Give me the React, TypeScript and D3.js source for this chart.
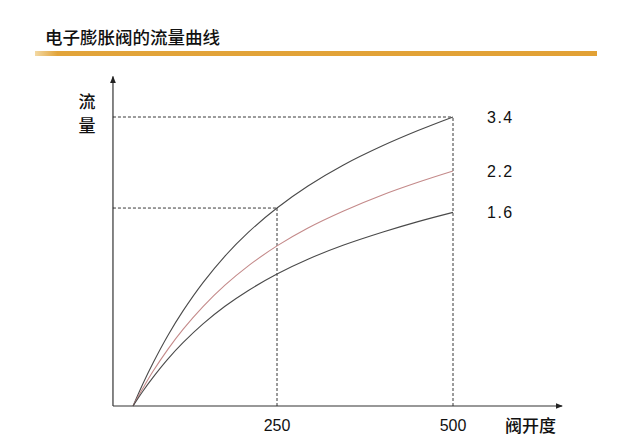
import React, { useEffect, useRef } from 'react'
import * as d3 from 'd3'

// 阀开度 (x) shared by the three curves, 流量 (y, 0-100 of the top guide)
const opening = [45.5, 59.7, 73.9, 95.2, 116.5, 144.9, 176.1, 208.8, 250, 294, 343.8, 400.6, 450.3, 500]
const flowTop = [0, 7.8, 14.9, 24.5, 32.9, 42.7, 51.9, 60.0, 68.5, 76.1, 83.3, 90.1, 95.3, 100]
const flowMid = [0, 6.2, 12.0, 19.7, 26.5, 34.4, 41.8, 48.4, 55.4, 61.6, 67.4, 73.1, 77.4, 81.3]
const flowLow = [0, 5.2, 9.9, 16.3, 21.9, 28.4, 34.5, 39.9, 45.7, 50.8, 55.6, 60.2, 63.8, 67.0]

const curveLabels = ['3.4', '2.2', '1.6']
const xTicks = [250, 500]
const title = '电子膨胀阀的流量曲线'
const yTitle = ['流', '量']
const xTitle = '阀开度'

const W = 640
const H = 438

const App: React.FC = () => {
  const ref = useRef<SVGSVGElement>(null)

  useEffect(() => {
    renderChart()
  }, [])

  const renderChart = () => {
    const svg = d3.select(ref.current)
    svg.selectAll('*').remove()

    const xScale = d3.scaleLinear().domain([0, 500]).range([101, 453])
    const yScale = d3.scaleLinear().domain([0, 100]).range([406, 117])

    const xAxisMin = 17
    const xAxisMax = 655
    const yAxisMax = 114

    /* header */
    const defs = svg.append('defs')
    const grad = defs
      .append('linearGradient')
      .attr('id', 'bar')
      .attr('x1', '0%')
      .attr('x2', '100%')
    grad.append('stop').attr('offset', '0%').attr('stop-color', '#f3d9a4')
    grad.append('stop').attr('offset', '4%').attr('stop-color', '#e2a43a')
    grad.append('stop').attr('offset', '100%').attr('stop-color', '#e2a135')

    svg
      .append('text')
      .attr('x', 45)
      .attr('y', 44)
      .attr('font-family', '"Noto Sans CJK SC", sans-serif')
      .attr('font-size', 17.5)
      .attr('font-weight', 500)
      .attr('fill', '#111')
      .text(title)

    svg
      .append('rect')
      .attr('x', 35)
      .attr('y', 51)
      .attr('width', 562)
      .attr('height', 5)
      .attr('fill', 'url(#bar)')

    /* arrows */
    defs
      .append('marker')
      .attr('id', 'arrow')
      .attr('viewBox', '0 0 10 10')
      .attr('refX', 9)
      .attr('refY', 5)
      .attr('markerWidth', 6)
      .attr('markerHeight', 6)
      .attr('orient', 'auto')
      .append('path')
      .attr('d', 'M0,1 L10,5 L0,9 Z')
      .attr('fill', '#222')

    /* axes */
    svg
      .append('line')
      .attr('x1', xScale(xAxisMin))
      .attr('x2', xScale(xAxisMin))
      .attr('y1', yScale(0))
      .attr('y2', yScale(yAxisMax))
      .attr('stroke', '#333')
      .attr('stroke-width', 1.2)
      .attr('marker-end', 'url(#arrow)')

    svg
      .append('line')
      .attr('x1', xScale(xAxisMin))
      .attr('x2', xScale(xAxisMax))
      .attr('y1', yScale(0))
      .attr('y2', yScale(0))
      .attr('stroke', '#333')
      .attr('stroke-width', 1.2)
      .attr('marker-end', 'url(#arrow)')

    /* dashed guides */
    const guides = svg
      .append('g')
      .attr('stroke', '#222')
      .attr('stroke-width', 0.9)
      .attr('stroke-dasharray', '3,2')
      .attr('fill', 'none')

    const topAt = (v: number) => flowTop[opening.indexOf(v)]
    xTicks.forEach((t) => {
      guides
        .append('line')
        .attr('x1', xScale(t))
        .attr('x2', xScale(t))
        .attr('y1', yScale(0))
        .attr('y2', yScale(topAt(t)))
      guides
        .append('line')
        .attr('x1', xScale(xAxisMin))
        .attr('x2', xScale(t))
        .attr('y1', yScale(topAt(t)))
        .attr('y2', yScale(topAt(t)))
    })

    /* curves */
    const line = d3
      .line<[number, number]>()
      .x((d) => xScale(d[0]))
      .y((d) => yScale(d[1]))
      .curve(d3.curveCatmullRom.alpha(0.5))

    const series = [
      { ys: flowTop, color: '#4a4a4a' },
      { ys: flowMid, color: '#c48a8a' },
      { ys: flowLow, color: '#4a4a4a' },
    ]

    series.forEach((s, i) => {
      const pts = opening.map((x, j) => [x, s.ys[j]] as [number, number])
      svg
        .append('path')
        .attr('d', line(pts))
        .attr('fill', 'none')
        .attr('stroke', s.color)
        .attr('stroke-width', 1.1)

      svg
        .append('text')
        .attr('x', xScale(500) + 34)
        .attr('y', yScale(s.ys[s.ys.length - 1]) + 6)
        .attr('font-family', '"Liberation Sans", Arial, sans-serif')
        .attr('font-size', 16)
        .attr('letter-spacing', 1.5)
        .attr('fill', '#111')
        .text(curveLabels[i])
    })

    /* tick labels */
    xTicks.forEach((t) => {
      svg
        .append('text')
        .attr('x', xScale(t))
        .attr('y', 431)
        .attr('text-anchor', 'middle')
        .attr('font-family', '"Liberation Sans", Arial, sans-serif')
        .attr('font-size', 16)
        .attr('fill', '#111')
        .text(t)
    })

    svg
      .append('text')
      .attr('x', 505)
      .attr('y', 432)
      .attr('font-family', '"Noto Sans CJK SC", sans-serif')
      .attr('font-size', 17)
      .attr('font-weight', 500)
      .attr('fill', '#111')
      .text(xTitle)

    yTitle.forEach((c, i) => {
      svg
        .append('text')
        .attr('x', 87)
        .attr('y', 108 + i * 24)
        .attr('text-anchor', 'middle')
        .attr('font-family', '"Noto Sans CJK SC", sans-serif')
        .attr('font-size', 17)
        .attr('font-weight', 500)
        .attr('fill', '#111')
        .text(c)
    })
  }

  return (
    <svg
      ref={ref}
      width={W}
      height={H}
      style={{ position: 'absolute', left: 0, top: 0, background: '#fff' }}
    />
  )
}

export default App
